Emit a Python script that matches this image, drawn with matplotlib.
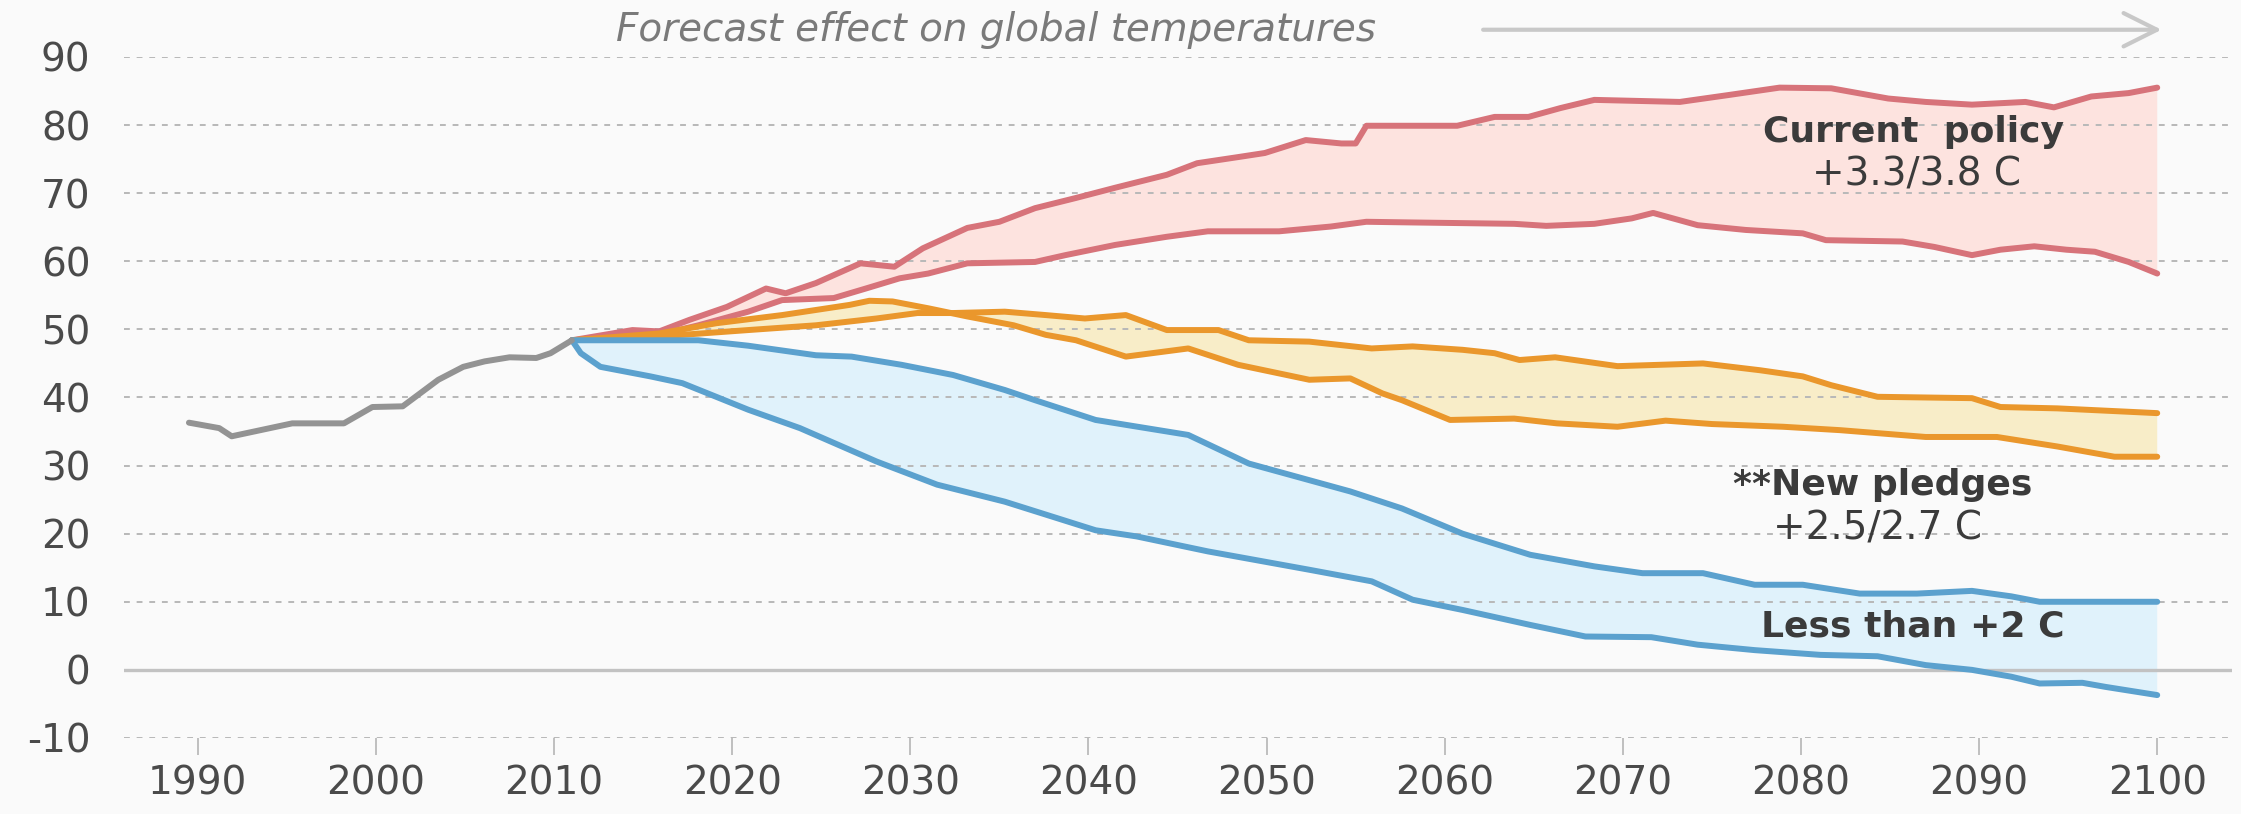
import numpy as np
import matplotlib
matplotlib.use("Agg")
import matplotlib.pyplot as plt

# values
hist_years = [1989.5, 1991.2, 1991.9, 1995.3, 1998.2, 1999.8, 2001.5, 2003.5, 2004.9,
              2006.1, 2007.5, 2009.0, 2009.8, 2011.0]
hist_vals = [36.3, 35.5, 34.3, 36.2, 36.2, 38.6, 38.7, 42.6, 44.5,
             45.3, 45.9, 45.8, 46.5, 48.4]

red_hi_years = [2011.0, 2014.4, 2015.9, 2017.6, 2019.7, 2021.9, 2023.0, 2024.7, 2027.2, 2029.1,
                2030.7, 2033.2, 2035.0, 2037.0, 2039.3, 2041.5, 2044.4, 2046.1, 2048.4, 2049.9,
                2052.2, 2054.2, 2055.0, 2055.6, 2060.7, 2062.8, 2064.7, 2066.5, 2068.4, 2073.2,
                2075.9, 2078.8, 2081.7, 2084.9, 2087.0, 2089.6, 2092.6, 2094.2, 2096.3, 2098.4, 2100.0]
red_hi_vals = [48.4, 49.9, 49.7, 51.4, 53.3, 56.0, 55.3, 56.8, 59.7, 59.2,
               61.9, 64.9, 65.8, 67.8, 69.3, 70.8, 72.7, 74.4, 75.3, 75.9,
               77.8, 77.3, 77.3, 79.9, 79.9, 81.2, 81.2, 82.5, 83.7, 83.4,
               84.4, 85.5, 85.4, 83.9, 83.4, 83.0, 83.4, 82.6, 84.2, 84.7, 85.5]

red_lo_years = [2011.0, 2015.9, 2018.1, 2020.9, 2022.8, 2025.7, 2027.5, 2029.4, 2031.0, 2033.2,
                2037.0, 2038.7, 2041.5, 2044.4, 2046.7, 2050.7, 2053.6, 2055.6, 2058.2, 2063.9,
                2065.7, 2068.4, 2070.5, 2071.7, 2074.2, 2076.9, 2080.1, 2081.4, 2085.7, 2087.5,
                2089.6, 2091.2, 2093.1, 2094.9, 2096.5, 2098.4, 2100.0]
red_lo_vals = [48.4, 49.2, 50.6, 52.6, 54.3, 54.6, 56.0, 57.5, 58.2, 59.7,
               59.9, 60.9, 62.4, 63.6, 64.4, 64.4, 65.1, 65.8, 65.7, 65.5,
               65.2, 65.5, 66.3, 67.1, 65.3, 64.6, 64.1, 63.1, 62.9, 62.1,
               60.9, 61.7, 62.2, 61.7, 61.4, 59.9, 58.2]

org_a_years = [2011.0, 2015.9, 2019.1, 2022.8, 2026.6, 2027.7, 2029.0, 2031.0, 2033.2, 2035.8,
               2037.6, 2039.3, 2042.1, 2045.6, 2048.4, 2052.4, 2054.7, 2056.5, 2057.6, 2060.3,
               2063.9, 2066.3, 2069.7, 2072.4, 2075.0, 2079.0, 2082.2, 2087.0, 2091.0, 2094.4,
               2097.6, 2100.0]
org_a_vals = [48.4, 49.4, 50.9, 52.1, 53.6, 54.2, 54.1, 53.1, 51.9, 50.6,
              49.2, 48.4, 46.0, 47.2, 44.8, 42.6, 42.8, 40.6, 39.6, 36.7,
              36.9, 36.2, 35.7, 36.6, 36.1, 35.7, 35.2, 34.2, 34.2, 32.8,
              31.3, 31.3]

org_b_years = [2011.0, 2017.2, 2020.9, 2024.7, 2028.1, 2030.4, 2032.4, 2035.3, 2037.6, 2039.8,
               2042.1, 2044.4, 2047.3, 2049.0, 2052.4, 2055.9, 2058.2, 2061.0, 2062.8, 2064.2,
               2066.2, 2069.7, 2074.5, 2077.7, 2080.1, 2081.7, 2084.3, 2089.6, 2091.2, 2094.4, 2100.0]
org_b_vals = [48.4, 49.2, 49.9, 50.6, 51.6, 52.4, 52.4, 52.6, 52.1, 51.6,
              52.1, 49.9, 49.9, 48.4, 48.2, 47.2, 47.5, 47.0, 46.5, 45.5,
              45.9, 44.6, 45.0, 44.0, 43.1, 41.8, 40.1, 39.9, 38.6, 38.4, 37.7]

blue_hi_years = [2011.0, 2018.1, 2020.9, 2024.7, 2026.7, 2029.5, 2032.4, 2035.3, 2037.0, 2040.4,
                 2045.6, 2049.0, 2054.7, 2057.6, 2061.0, 2064.8, 2068.4, 2071.1, 2074.5, 2077.4,
                 2080.1, 2083.3, 2086.5, 2089.6, 2091.8, 2093.4, 2100.0]
blue_hi_vals = [48.4, 48.4, 47.6, 46.2, 46.0, 44.8, 43.3, 41.1, 39.6, 36.7,
                34.5, 30.3, 26.2, 23.7, 20.0, 16.9, 15.2, 14.2, 14.2, 12.5,
                12.5, 11.2, 11.2, 11.6, 10.8, 10.0, 10.0]

blue_lo_years = [2011.0, 2011.5, 2012.6, 2015.4, 2017.2, 2019.1, 2020.9, 2023.8, 2028.1, 2031.5,
                 2035.3, 2040.4, 2042.7, 2046.7, 2052.4, 2055.9, 2058.2, 2061.0, 2064.8, 2067.9,
                 2071.6, 2074.2, 2077.4, 2081.1, 2084.3, 2087.0, 2089.6, 2091.8, 2093.4, 2095.8,
                 2097.1, 2100.0]
blue_lo_vals = [48.4, 46.5, 44.5, 43.1, 42.1, 40.1, 38.2, 35.5, 30.6, 27.2,
                24.7, 20.5, 19.6, 17.4, 14.7, 13.0, 10.3, 8.8, 6.6, 4.9,
                4.8, 3.7, 2.9, 2.2, 2.0, 0.7, 0.0, -1.0, -2.0, -1.9,
                -2.5, -3.7]

x_ticks = [1990, 2000, 2010, 2020, 2030, 2040, 2050, 2060, 2070, 2080, 2090, 2100]
y_ticks = [-10, 0, 10, 20, 30, 40, 50, 60, 70, 80, 90]

plt.rcParams['font.family'] = 'DejaVu Sans'
plt.rcParams['axes.unicode_minus'] = False

bg = '#fafafa'
fig = plt.figure(figsize=(22.41, 8.14), dpi=100, facecolor=bg)
ax = fig.add_axes([0.0553, 0.0934, 0.9407, 0.8366], facecolor=bg)


def band(ax, xs_hi, ys_hi, xs_lo, ys_lo, line_col, fill_col):
    px = np.concatenate([xs_hi, xs_lo[::-1]])
    py = np.concatenate([ys_hi, ys_lo[::-1]])
    ax.fill(px, py, color=fill_col, lw=0, zorder=1)
    ax.plot(xs_hi, ys_hi, color=line_col, lw=4.3, solid_joinstyle='round',
            solid_capstyle='round', zorder=4)
    ax.plot(xs_lo, ys_lo, color=line_col, lw=4.3, solid_joinstyle='round',
            solid_capstyle='round', zorder=4)


band(ax, np.array(red_hi_years), np.array(red_hi_vals),
     np.array(red_lo_years), np.array(red_lo_vals), '#d7737a', '#fde3df')
band(ax, np.array(org_b_years), np.array(org_b_vals),
     np.array(org_a_years), np.array(org_a_vals), '#ea972c', '#f8edc8')
band(ax, np.array(blue_hi_years), np.array(blue_hi_vals),
     np.array(blue_lo_years), np.array(blue_lo_vals), '#5ba1ce', '#e0f2fb')

ax.plot(hist_years, hist_vals, color='#939393', lw=4.3, solid_joinstyle='round',
        solid_capstyle='round', zorder=4)

# gridlines
for v in y_ticks:
    if v == 0:
        ax.axhline(v, color='#c2c2c2', lw=2.4, zorder=3)
    else:
        ax.axhline(v, color='#b8b8b8', lw=1.4, dashes=(3, 3.5), zorder=2)

ax.set_xlim(1985.85, 2104.2)
ax.set_ylim(-10, 90)
ax.set_xticks(x_ticks)
ax.set_yticks(y_ticks)
for s in ax.spines.values():
    s.set_visible(False)
ax.tick_params(axis='y', length=0, pad=24, labelsize=28, labelcolor='#4a4a4a')
ax.tick_params(axis='x', length=12, width=1.2, color='#b5b5b5', pad=7,
               labelsize=28, labelcolor='#4a4a4a')

# labels for the bands
ax.text(2086.3, 79.0, 'Current  policy', ha='center', va='center',
        fontsize=26, fontweight='bold', color='#3b3b3b', zorder=5)
ax.text(2086.5, 72.8, '+3.3/3.8 C', ha='center', va='center',
        fontsize=28, color='#3b3b3b', zorder=5)
ax.text(2084.6, 27.2, '**New pledges', ha='center', va='center',
        fontsize=26, fontweight='bold', color='#3b3b3b', zorder=5)
ax.text(2084.3, 20.8, '+2.5/2.7 C', ha='center', va='center',
        fontsize=28, color='#3b3b3b', zorder=5)
ax.text(2086.3, 6.3, 'Less than +2 C', ha='center', va='center',
        fontsize=26, fontweight='bold', color='#3b3b3b', zorder=5)

# forecast header with arrow
ax.text(2013.5, 94.0, 'Forecast effect on global temperatures', ha='left', va='center',
        fontsize=28, style='italic', color='#7a7a7a', clip_on=False)
ax.annotate('', xy=(2100.4, 94.0), xytext=(2062.0, 94.0), annotation_clip=False,
            arrowprops=dict(arrowstyle='->,head_length=0.6,head_width=0.3',
                            mutation_scale=40, lw=3, color='#c8c8c8'))

fig.savefig('out.png', dpi=100, facecolor=bg)
